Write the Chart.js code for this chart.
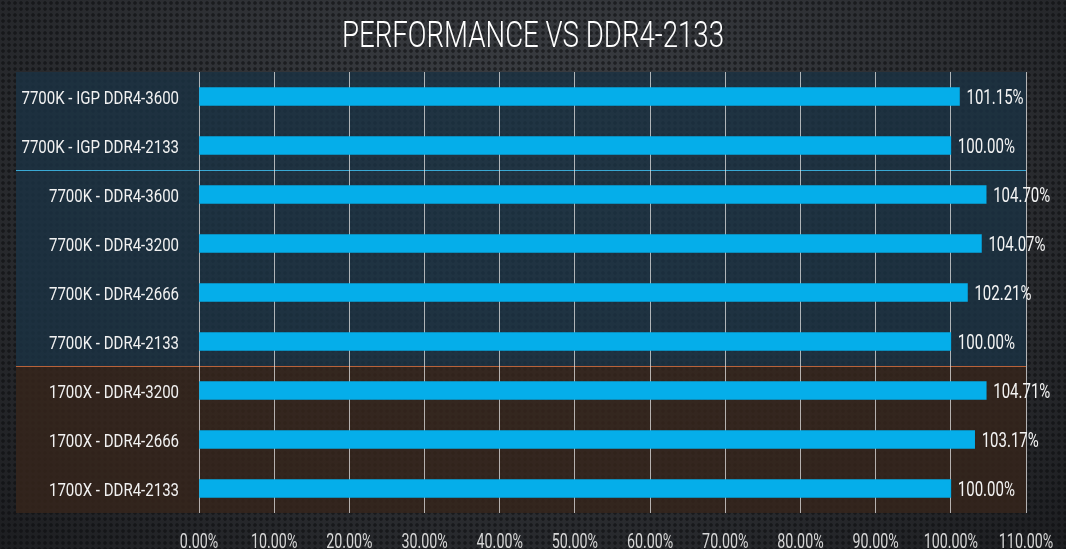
<!DOCTYPE html>
<html>
<head>
<meta charset="utf-8">
<script src="https://cdn.jsdelivr.net/npm/chart.js@4/dist/chart.umd.min.js"></script>
<style>
  html, body { margin: 0; padding: 0; }
  body {
    width: 1066px; height: 549px; overflow: hidden;
    background:
      radial-gradient(circle, rgba(10,11,13,0.55) 1.4px, transparent 2.2px) 0 0 / 6px 6px,
      radial-gradient(ellipse at 50% 30%, #3d4045 0%, #2d2f33 55%, #1d1e21 100%);
  }
  #wrap { position: relative; width: 1066px; height: 549px; }
</style>
</head>
<body>
<div id="wrap"><canvas id="chart"></canvas></div>
<script>
const FONT = 'Roboto, "Liberation Sans", sans-serif';
const TITLE = 'PERFORMANCE VS DDR4-2133';

const categories = [
    '7700K - IGP DDR4-3600',
    '7700K - IGP DDR4-2133',
    '7700K - DDR4-3600',
    '7700K - DDR4-3200',
    '7700K - DDR4-2666',
    '7700K - DDR4-2133',
    '1700X - DDR4-3200',
    '1700X - DDR4-2666',
    '1700X - DDR4-2133'
];
const performance = [101.15, 100.00, 104.70, 104.07, 102.21, 100.00, 104.71, 103.17, 100.00];
const xTickValues = [0, 10, 20, 30, 40, 50, 60, 70, 80, 90, 100, 110];

// the original uses a tall condensed face, none is installed, so squeeze Roboto
function condensedText(ctx, text, x, y, font, scaleX, align, color) {
    ctx.save();
    ctx.font = font;
    ctx.fillStyle = color;
    ctx.textAlign = align;
    ctx.textBaseline = 'alphabetic';
    ctx.translate(x, y);
    ctx.scale(scaleX, 1);
    ctx.fillText(text, 0, 0);
    ctx.restore();
}

// panels behind the plot: blue for the 7700K rows, brown for the 1700X rows
const panelPlugin = {
    id: 'panels',
    beforeDraw(chart) {
        const { ctx, chartArea, scales } = chart;
        const y = scales.y;
        const left = 16;
        const right = chartArea.right;
        const split = (y.getPixelForValue(5) + y.getPixelForValue(6)) / 2;
        const igpSplit = (y.getPixelForValue(1) + y.getPixelForValue(2)) / 2;
        ctx.save();
        ctx.fillStyle = 'rgba(27, 50, 67, 0.82)';
        ctx.fillRect(left, chartArea.top, right - left, split - chartArea.top);
        ctx.fillStyle = 'rgba(54, 37, 28, 0.84)';
        ctx.fillRect(left, split, right - left, chartArea.bottom - split);
        ctx.lineWidth = 1;
        ctx.strokeStyle = '#3aa9d4';
        ctx.beginPath();
        ctx.moveTo(left, Math.round(igpSplit) + 0.5);
        ctx.lineTo(right, Math.round(igpSplit) + 0.5);
        ctx.stroke();
        ctx.strokeStyle = '#b8623a';
        ctx.beginPath();
        ctx.moveTo(left, Math.round(split) + 0.5);
        ctx.lineTo(right, Math.round(split) + 0.5);
        ctx.stroke();
        ctx.restore();
    }
};

// title, axis labels and bar values, all drawn condensed
const textPlugin = {
    id: 'condensedLabels',
    afterDatasetsDraw(chart) {
        const { ctx, scales } = chart;
        const xs = scales.x, ys = scales.y;

        ctx.save();
        ctx.font = '300 37px ' + FONT;
        const titleScale = 382 / ctx.measureText(TITLE).width;
        ctx.restore();
        condensedText(ctx, TITLE, chart.width / 2, 47, '300 37px ' + FONT, titleScale, 'center', '#ffffff');

        ys.ticks.forEach((t, i) => {
            condensedText(ctx, categories[t.value], 179, ys.getPixelForTick(i) + 7,
                '19px ' + FONT, 0.79, 'right', '#f2f2f2');
        });

        xs.ticks.forEach((t, i) => {
            condensedText(ctx, t.value.toFixed(2) + '%', xs.getPixelForTick(i), 548,
                '21px ' + FONT, 0.68, 'center', '#d6d6d6');
        });

        chart.getDatasetMeta(0).data.forEach((bar, i) => {
            condensedText(ctx, performance[i].toFixed(2) + '%', bar.x + 7, bar.y + 7,
                '20px ' + FONT, 0.75, 'left', '#f4f4f4');
        });
    }
};

new Chart(document.getElementById('chart'), {
    type: 'bar',
    plugins: [panelPlugin, textPlugin],
    data: {
        labels: categories,
        datasets: [{
            data: performance,
            backgroundColor: '#05aeea',
            barThickness: 18
        }]
    },
    options: {
        indexAxis: 'y',
        responsive: true,
        maintainAspectRatio: false,
        animation: false,
        layout: { padding: { left: 0, right: 40, top: 72, bottom: 0 } },
        plugins: {
            legend: { display: false },
            tooltip: { enabled: false },
            title: { display: false }
        },
        scales: {
            x: {
                min: 0,
                max: 110,
                afterBuildTicks(scale) {
                    scale.ticks = xTickValues.map(v => ({ value: v }));
                },
                afterFit(scale) { scale.height = 36; },
                ticks: { display: false },
                grid: { color: 'rgba(225,225,225,0.75)', lineWidth: 1, drawTicks: false },
                border: { display: false }
            },
            y: {
                afterFit(scale) { scale.width = 199; },
                ticks: { display: false },
                grid: { display: false },
                border: { display: false }
            }
        }
    }
});
</script>
</body>
</html>
